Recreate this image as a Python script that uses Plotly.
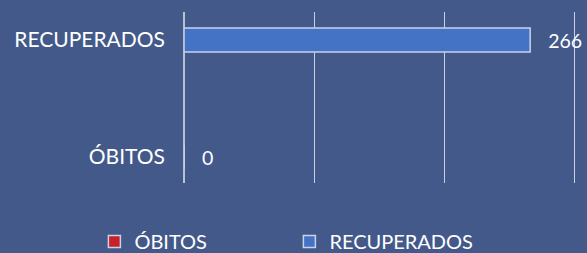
import plotly.graph_objects as go

categories = ["ÓBITOS", "RECUPERADOS"]
values = [0, 266]
colors = ["#C9202A", "#4472C4"]
x_ticks = [0, 100, 200, 300]

BG = "#42598A"
FONT = "Lato, 'Open Sans', sans-serif"
GRID = "rgba(225,228,238,0.85)"

fig = go.Figure()
for cat, val, col in zip(categories, values, colors):
    fig.add_trace(go.Bar(
        y=[cat], x=[val], orientation="h", name=cat,
        marker=dict(color=col, line=dict(color="#C9D2E8", width=1.5)),
        width=0.205,
        text=[val], texttemplate="\u00a0\u00a0\u00a0%{x}", textposition="outside",
        textfont=dict(color="white", size=22, family=FONT),
        cliponaxis=False,
    ))

fig.update_layout(
    width=587, height=253,
    paper_bgcolor=BG, plot_bgcolor=BG,
    margin=dict(l=184, r=10, t=12, b=70),
    barmode="overlay",
    font=dict(family=FONT, color="white"),
    showlegend=True,
    legend=dict(
        orientation="h", xref="container", yref="container",
        x=0.493, xanchor="center", y=0.045, yanchor="middle",
        font=dict(size=20, color="white", family=FONT),
        itemwidth=30, traceorder="normal",
        entrywidthmode="pixels", entrywidth=150,
    ),
)
fig.update_xaxes(
    range=[x_ticks[0], x_ticks[-1] + 2], tickvals=x_ticks, showticklabels=False,
    showgrid=True, gridcolor=GRID, gridwidth=1,
    zeroline=True, zerolinecolor="rgba(200,205,215,0.9)", zerolinewidth=1.5,
    showline=False,
)
fig.update_yaxes(
    type="category", categoryorder="array", categoryarray=categories,
    range=[-0.222, 1.239], showgrid=False, zeroline=False, showline=False,
    tickfont=dict(size=21, color="white", family=FONT),
    ticklabelstandoff=18,
)

fig.write_html("out.html", config={"displayModeBar": False})

# remove default page margins so the figure fills the window exactly
with open("out.html", "r", encoding="utf-8") as f:
    html = f.read()
html = html.replace(
    "<head>",
    "<head><style>html,body{margin:0;padding:0;overflow:hidden;background:%s}</style>" % BG,
    1,
)
with open("out.html", "w", encoding="utf-8") as f:
    f.write(html)
